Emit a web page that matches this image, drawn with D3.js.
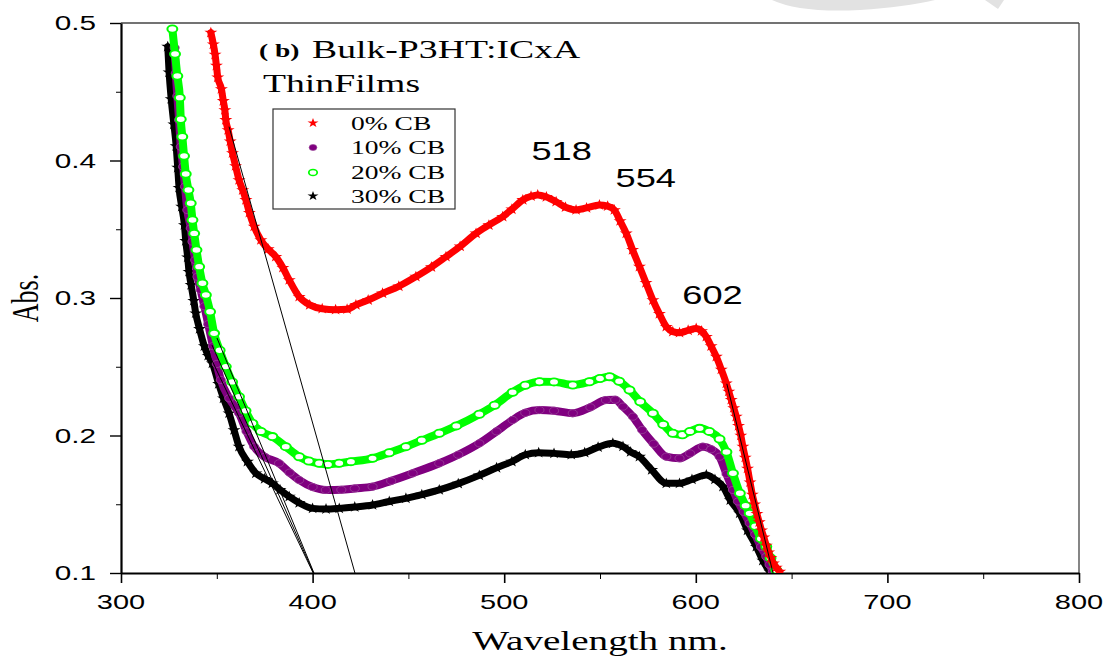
<!DOCTYPE html>
<html>
<head>
<meta charset="utf-8">
<script src="https://cdn.jsdelivr.net/npm/d3@7"></script>
<style>
  body { margin: 0; background: #fff; }
  svg { display: block; }
</style>
</head>
<body>
<svg id="chart"></svg>
<script>
// values: [wavelength nm, absorbance]
var cb0 = [[346.9,0.493],[348.2,0.4845],[349.1,0.477],[349.8,0.469],[350.5,0.4605],[352.4,0.452],[353.4,0.4433],
  [354.2,0.4367],[354.7,0.4295],[355.9,0.4222],[357,0.414],[358.2,0.4054],[359.8,0.396],[361.6,0.3858],[363.5,0.3785],
  [365.2,0.3713],[367,0.362],[369.5,0.352],[373,0.3422],[376.8,0.3355],[380.8,0.33],[384.5,0.322],[387.8,0.3131],
  [393,0.3009],[398.5,0.295],[405,0.2922],[412,0.2915],[418,0.2918],[422.6,0.295],[429,0.2985],[436.5,0.3034],
  [445,0.3085],[453.9,0.3155],[462,0.3225],[469.6,0.33],[477,0.3375],[485.3,0.347],[492,0.353],[499.2,0.3591],
  [504,0.3645],[509.7,0.3713],[514,0.374],[517.5,0.375],[522,0.3735],[527.1,0.37],[532,0.366],[537.5,0.364],
  [543,0.3655],[549.7,0.3676],[554,0.3668],[557.5,0.364],[560.5,0.356],[563.7,0.347],[567,0.335],[570.6,0.3228],
  [574,0.311],[577.6,0.2985],[581,0.2885],[584.6,0.2791],[588,0.2755],[591.5,0.2747],[596,0.2765],[600.2,0.2779],
  [603,0.276],[605.5,0.2718],[608,0.265],[610.7,0.2573],[613.3,0.248],[615.9,0.2379],[617.2,0.232],[618.5,0.226],
  [619.8,0.22],[621.1,0.2137],[622.3,0.207],[623.5,0.2],[624.6,0.1919],[625.8,0.184],[627,0.176],[628.3,0.166],
  [629.5,0.157],[630.7,0.15],[631.9,0.143],[633.1,0.137],[634.3,0.131],[635.5,0.126],[636.8,0.12],[638,0.115],
  [639.2,0.111],[640.5,0.107],[642,0.104],[643.8,0.101]];

var cb10 = [[328,0.482],[328.6,0.4634],[329.4,0.4469],[330.3,0.4295],[331.2,0.41],[332.4,0.3955],[333.4,0.381],
  [334.6,0.364],[336.4,0.3507],[337.3,0.341],[338.7,0.3276],[339.9,0.3155],[341.6,0.3058],[343.5,0.294],
  [345.5,0.281],[348,0.265],[350,0.252],[352.1,0.2404],[356.5,0.227],[361.6,0.2162],[365.5,0.203],[369.5,0.1919],
  [375,0.1845],[382.5,0.1798],[388,0.173],[393,0.1676],[400,0.1625],[406.9,0.1604],[415,0.1605],[422,0.1615],
  [431.3,0.1628],[441,0.167],[452.2,0.1725],[466.1,0.1798],[476,0.186],[487,0.1943],[496,0.203],[504.4,0.2113],
  [511,0.2165],[518.4,0.2185],[526,0.218],[535.8,0.2162],[545,0.2205],[553.1,0.2258],[558,0.226],[562,0.221],
  [567.2,0.2137],[572,0.204],[578,0.194],[584.6,0.1846],[591.5,0.1834],[597,0.187],[603.7,0.1919],[608,0.19],
  [612.4,0.1846],[616,0.172],[619.4,0.1604],[622,0.152],[625,0.1445],[628.1,0.1362],[631,0.128],[634,0.119],
  [636.8,0.1119],[638.5,0.106],[640.2,0.101]];

var cb20 = [[326.8,0.4956],[328.2,0.4775],[329.4,0.4615],[330.7,0.4457],[331.2,0.43],[332,0.4173],[332.9,0.4033],
  [333.8,0.3902],[335.2,0.3785],[336.4,0.3689],[337.3,0.3567],[338.2,0.347],[339.4,0.3349],[340.8,0.3228],
  [342.5,0.3107],[344.3,0.3022],[346.5,0.29],[348.6,0.2743],[351.5,0.262],[354.7,0.2501],[358,0.239],
  [361.6,0.2282],[365,0.218],[368.6,0.2089],[373,0.203],[379,0.1992],[386,0.1919],[393,0.1846],[398,0.1815],
  [403.4,0.1798],[408,0.179],[413.9,0.1798],[420,0.181],[431.3,0.1834],[440,0.1875],[448.7,0.1919],[457,0.1965],
  [466.1,0.2016],[475,0.207],[487,0.2155],[495,0.222],[504.4,0.2315],[511,0.2365],[518.4,0.2391],[526,0.239],
  [535.8,0.2367],[544.5,0.2391],[550,0.2415],[555,0.2428],[560,0.2395],[565.4,0.2331],[571,0.2245],[577.6,0.2162],
  [583,0.208],[588,0.2016],[593,0.2005],[597,0.203],[602,0.2052],[607,0.203],[612.4,0.1975],[616,0.188],
  [619.4,0.1725],[623,0.158],[626,0.149],[628.1,0.1434],[631,0.134],[634,0.125],[636.8,0.1191],[639,0.111],
  [642,0.1022]];

var cb30 = [[324.4,0.4828],[325.1,0.4641],[326.2,0.4447],[327.6,0.4263],[328.8,0.4105],[329.6,0.3948],
  [330.3,0.3802],[331.7,0.3664],[333.1,0.3531],[333.8,0.3415],[334.8,0.3296],[335.5,0.3191],[336.6,0.3095],
  [338,0.298],[339,0.2889],[341,0.2775],[343.5,0.265],[345.5,0.258],[347.7,0.2525],[351,0.2375],[353.5,0.227],
  [356.4,0.2162],[359,0.204],[361.6,0.1919],[366,0.181],[370.4,0.1725],[375,0.1685],[379,0.1652],[383,0.1605],
  [387.8,0.1555],[393,0.151],[400,0.147],[407,0.1465],[413.9,0.147],[422,0.148],[431.3,0.1495],[440,0.152],
  [448.7,0.1543],[457,0.157],[466.1,0.1604],[476,0.165],[487,0.171],[496,0.1765],[504,0.181],[511,0.186],
  [518,0.1875],[526,0.187],[535,0.186],[542,0.1875],[549,0.1915],[556.7,0.1943],[562,0.192],[566,0.188],
  [570.6,0.1846],[577,0.175],[584.6,0.1652],[591.5,0.1652],[598,0.168],[605.5,0.1713],[610,0.168],[614.2,0.1628],
  [618,0.153],[622.9,0.1434],[627,0.131],[631.6,0.1191],[635,0.109],[638.6,0.101]];

var seriesNames = ["0% CB", "10% CB", "20% CB", "30% CB"];
var xTicks = [300, 400, 500, 600, 700, 800];
var xMinor = [350, 450, 550, 650, 750];
var yTicks = [0.1, 0.2, 0.3, 0.4, 0.5];
var yMinor = [0.15, 0.25, 0.35, 0.45];
var peakText = ["518", "554", "602"];
var peakAt = [[530, 0.4004], [573.9, 0.3805], [608.7, 0.2956]];
// onset tangent lines drawn on the spectra
var tangents = [
  [[356.4, 0.4246], [422.1, 0.1]],
  [[350.1, 0.2709], [400.7, 0.1]],
  [[347.5, 0.2658], [400.5, 0.1]],
  [[345.4, 0.2607], [400.3, 0.1]],
  [[616.2, 0.2376], [640.3, 0.1]]
];

var W = 1108, H = 659;
var SX = 1.45; // the original figure is stretched sideways
var MX = 1.15; // sideways stretch of the markers
var serif = "'Liberation Serif','Times New Roman',serif";
var sans = "'Liberation Sans',Arial,sans-serif";

var svg = d3.select("#chart").attr("width", W).attr("height", H);

var x = d3.scaleLinear().domain([300, 800]).range([121, 1079]);
var y = d3.scaleLinear().domain([0.1, 0.5]).range([573, 23]);

// faint watermark at the top
svg.append("path")
  .attr("d", "M772,0 Q800,13 860,10 Q905,7 935,0 Z M985,0 L1004,0 L998,9 Z")
  .attr("fill", "#e2e2e2");

svg.append("clipPath").attr("id", "plot")
  .append("rect").attr("x", 121).attr("y", 23).attr("width", 958).attr("height", 550);

function stext(g, px, py, str, size, family, anchor) {
  return g.append("text")
    .attr("transform", "translate(" + px + "," + py + ") scale(" + SX + ",1)")
    .attr("text-anchor", anchor || "start")
    .style("font-family", family)
    .style("font-size", size + "px")
    .attr("fill", "#000")
    .text(str);
}

// frame
svg.append("line").attr("x1", 121).attr("x2", 1079).attr("y1", 23).attr("y2", 23)
  .attr("stroke", "#444").attr("stroke-width", 1.3);
svg.append("line").attr("x1", 1079).attr("x2", 1079).attr("y1", 23).attr("y2", 573)
  .attr("stroke", "#444").attr("stroke-width", 1.3);

// axes
var xAxis = svg.append("g").attr("transform", "translate(0,573)")
  .call(d3.axisBottom(x).tickValues(xTicks).tickSize(10).tickSizeOuter(0).tickFormat(""));
svg.append("g").attr("transform", "translate(0,573)")
  .call(d3.axisBottom(x).tickValues(xMinor).tickSize(6).tickSizeOuter(0).tickFormat(""))
  .select(".domain").remove();
xAxis.select(".domain").attr("stroke-width", 2);
xAxis.selectAll(".tick line").attr("stroke-width", 1.6);
xTicks.forEach(function(v) { stext(svg, x(v), 609, String(v), 20, sans, "middle"); });

var yAxis = svg.append("g").attr("transform", "translate(121,0)")
  .call(d3.axisLeft(y).tickValues(yTicks).tickSize(11).tickSizeOuter(0).tickFormat(""));
svg.append("g").attr("transform", "translate(121,0)")
  .call(d3.axisLeft(y).tickValues(yMinor).tickSize(5).tickSizeOuter(0).tickFormat(""))
  .select(".domain").remove();
yAxis.select(".domain").attr("stroke-width", 2.2);
yAxis.selectAll(".tick line").attr("stroke-width", 1.4);
yTicks.forEach(function(v) { stext(svg, 96, y(v) + 7, d3.format(".1f")(v), 20.5, sans, "end"); });

stext(svg, 600, 650, "Wavelength nm.", 27, serif, "middle");
svg.append("text")
  .attr("transform", "translate(38,298) scale(" + SX + ",1) rotate(-90)")
  .attr("text-anchor", "middle")
  .style("font-family", serif).style("font-size", "26px")
  .text("Abs.");

// series
var series = [
  { data: cb30, color: "#000", band: 7, mark: "star" },
  { data: cb10, color: "#800080", band: 8, mark: "dot" },
  { data: cb20, color: "#00ff00", band: 8, mark: "ring" },
  { data: cb0, color: "#ff0000", band: 7, mark: "star" }
];
var line = d3.line().x(function(d) { return x(d[0]); }).y(function(d) { return y(d[1]); })
  .curve(d3.curveMonotoneX);
var star = d3.symbol().type(d3.symbolStar).size(40);
var plot = svg.append("g").attr("clip-path", "url(#plot)");

function marker(g, s, px, py, k) {
  var t = "translate(" + px + "," + py + ") scale(" + (MX * k) + "," + k + ")";
  if (s.mark === "star") {
    g.append("path").attr("d", star()).attr("transform", t).attr("fill", s.color);
  } else if (s.mark === "dot") {
    g.append("ellipse").attr("transform", t).attr("rx", 4).attr("ry", 3.6)
      .attr("fill", s.color).attr("stroke", "#9a4a9a").attr("stroke-width", 0.7);
  } else {
    g.append("ellipse").attr("transform", t).attr("rx", 4.3).attr("ry", 3.6)
      .attr("fill", "#fff").attr("stroke", s.color).attr("stroke-width", 1.8);
  }
}

series.forEach(function(s) {
  var g = plot.append("g");
  g.append("path").datum(s.data).attr("d", line)
    .attr("fill", "none").attr("stroke", s.color).attr("stroke-width", s.band)
    .attr("stroke-linejoin", "round").attr("stroke-linecap", "round");
  s.data.forEach(function(d) { marker(g, s, x(d[0]), y(d[1]), 1); });
});

tangents.forEach(function(t) {
  plot.append("line")
    .attr("x1", x(t[0][0])).attr("y1", y(t[0][1]))
    .attr("x2", x(t[1][0])).attr("y2", y(t[1][1]))
    .attr("stroke", "#000").attr("stroke-width", 1);
});

// title
svg.append("text")
  .attr("transform", "translate(259,57) scale(" + SX + ",1)")
  .style("font-family", serif).style("font-size", "19px").style("font-weight", "bold")
  .text("( b)");
stext(svg, 312, 58, "Bulk-P3HT:ICxA", 26, serif);
stext(svg, 263, 92, "ThinFilms", 26, serif);

// legend
svg.append("rect").attr("x", 273).attr("y", 109).attr("width", 182).attr("height", 100)
  .attr("fill", "#fff").attr("stroke", "#333").attr("stroke-width", 1.2);
var legendOrder = [series[3], series[1], series[2], series[0]];
var rowY = [123, 147.5, 172.5, 196];
seriesNames.forEach(function(name, i) {
  marker(svg, legendOrder[i], 313, rowY[i], 0.85);
  stext(svg, 351, rowY[i] + 6.5, name, 19, serif);
});

// peak labels
peakText.forEach(function(t, i) {
  stext(svg, x(peakAt[i][0]), y(peakAt[i][1]), t, 25, sans, "middle");
});
</script>
</body>
</html>
